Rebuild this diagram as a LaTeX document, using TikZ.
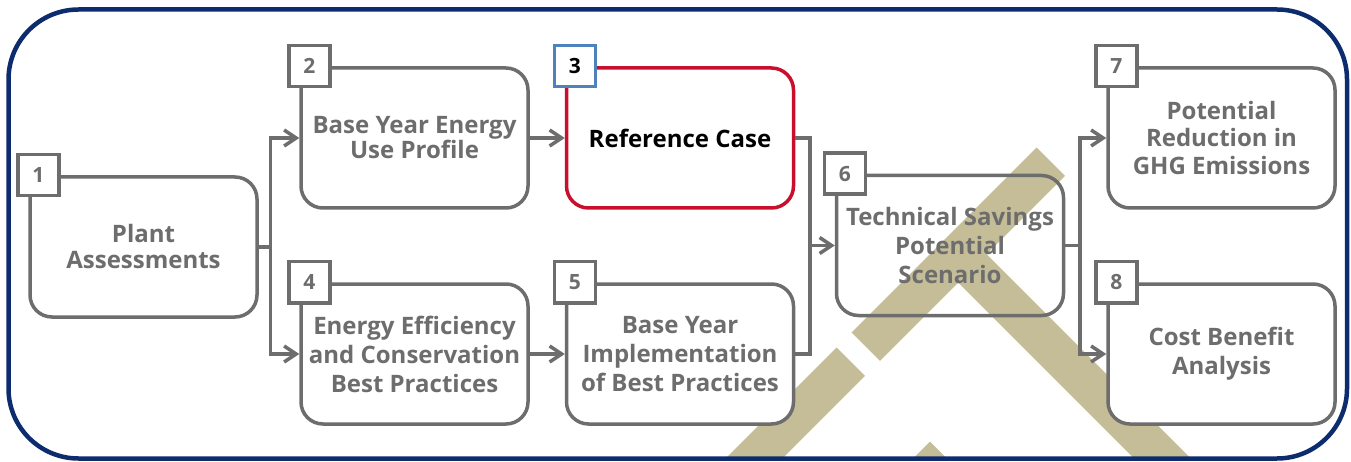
\documentclass[tikz,border=0pt]{standalone}
\usepackage{fontspec}
\setmainfont{Open Sans}
\usetikzlibrary{arrows.meta}

\definecolor{boxgray}{RGB}{109,109,109}
\definecolor{framenavy}{RGB}{12,44,110}
\definecolor{roofkhaki}{RGB}{196,189,151}
\definecolor{refred}{RGB}{200,16,46}
\definecolor{numblue}{RGB}{79,129,189}

\begin{document}
\begin{tikzpicture}[x=1pt,y=-1pt,
  stepbox/.style={draw=boxgray, line width=3.5pt, rounded corners=22pt, fill=white,
    minimum width=227pt, minimum height=140pt, inner sep=0pt, align=center,
    text=boxgray, font=\bfseries\fontsize{24}{29}\selectfont},
  lead/.style={font=\bfseries\fontsize{24}{#1}\selectfont},
  numbox/.style={draw=boxgray, line width=3.5pt, fill=white, minimum size=41pt,
    inner sep=0pt, text=boxgray, font=\bfseries\fontsize{21}{21}\selectfont,
    xshift=10pt},
  link/.style={draw=boxgray, line width=3.5pt},
  arrow/.style={link, -{Straight Barb[length=12pt,width=16pt]}},
  band/.style={draw=roofkhaki, line width=40pt, line cap=butt},
]
\useasboundingbox (0,0) rectangle (1351,462);

% khaki roof watermark behind the chart
\begin{scope}
  \clip[rounded corners=70pt] (8.5,9.5) rectangle (1347,458.5);
  \draw[band] (700,512.5) -- (850.8,361.7);
  \draw[band] (865.8,346.7) -- (1050.8,161.7);
  \draw[band] (958.25,254.25) -- (1250,546);
  \fill[roofkhaki] (900,471.7) -- (930,441.7) -- (960,471.7) -- cycle;
\end{scope}

% outer frame
\draw[framenavy, line width=4.5pt, rounded corners=70pt] (8.5,9.5) rectangle (1347,458.5);

% step boxes
\node[stepbox, lead=26] (b1) at (143.5,247) {Plant\\Assessments};
\node[stepbox, lead=25] (b2) at (414.5,138) {Base Year Energy\\Use Profile};
\node[stepbox, draw=refred, text=black] (b3) at (680,138) {Reference Case};
\node[stepbox] (b4) at (414.5,354) {Energy Efficiency\\and Conservation\\Best Practices};
\node[stepbox] (b5) at (680,354) {Base Year\\Implementation\\of Best Practices};
\node[stepbox, fill=none] (b6) at (950,245.5) {Technical Savings\\Potential\\Scenario};
\node[stepbox, lead=27.5] (b7) at (1221.5,138) {Potential\\Reduction in\\GHG Emissions};
\node[stepbox] (b8) at (1221.5,354) {Cost Benefit\\Analysis};

% junction points of the connectors
\coordinate (j1) at (270.5,247);
\coordinate (j2) at (810,245.5);
\coordinate (j3) at (1080,245.5);

% connectors
\draw[link] (b1.east) -- (j1);
\draw[arrow] (j1) |- (b2.west);
\draw[arrow] (j1) |- (b4.west);
\draw[arrow] (b2.east) -- (b3.west);
\draw[arrow] (b4.east) -- (b5.west);
\draw[link] (b3.east) -| (j2) |- (b5.east);
\draw[arrow] (j2) -- (b6.west);
\draw[link] (b6.east) -- (j3);
\draw[arrow] (j3) |- (b7.west);
\draw[arrow] (j3) |- (b8.west);

% step numbers
\node[numbox] (n1) at (b1.north west) {1};
\node[numbox] (n2) at (b2.north west) {2};
\node[numbox, draw=numblue, text=black] (n3) at (b3.north west) {3};
\node[numbox] (n4) at (b4.north west) {4};
\node[numbox] (n5) at (b5.north west) {5};
\node[numbox] (n6) at (b6.north west) {6};
\node[numbox] (n7) at (b7.north west) {7};
\node[numbox] (n8) at (b8.north west) {8};
\end{tikzpicture}
\end{document}
